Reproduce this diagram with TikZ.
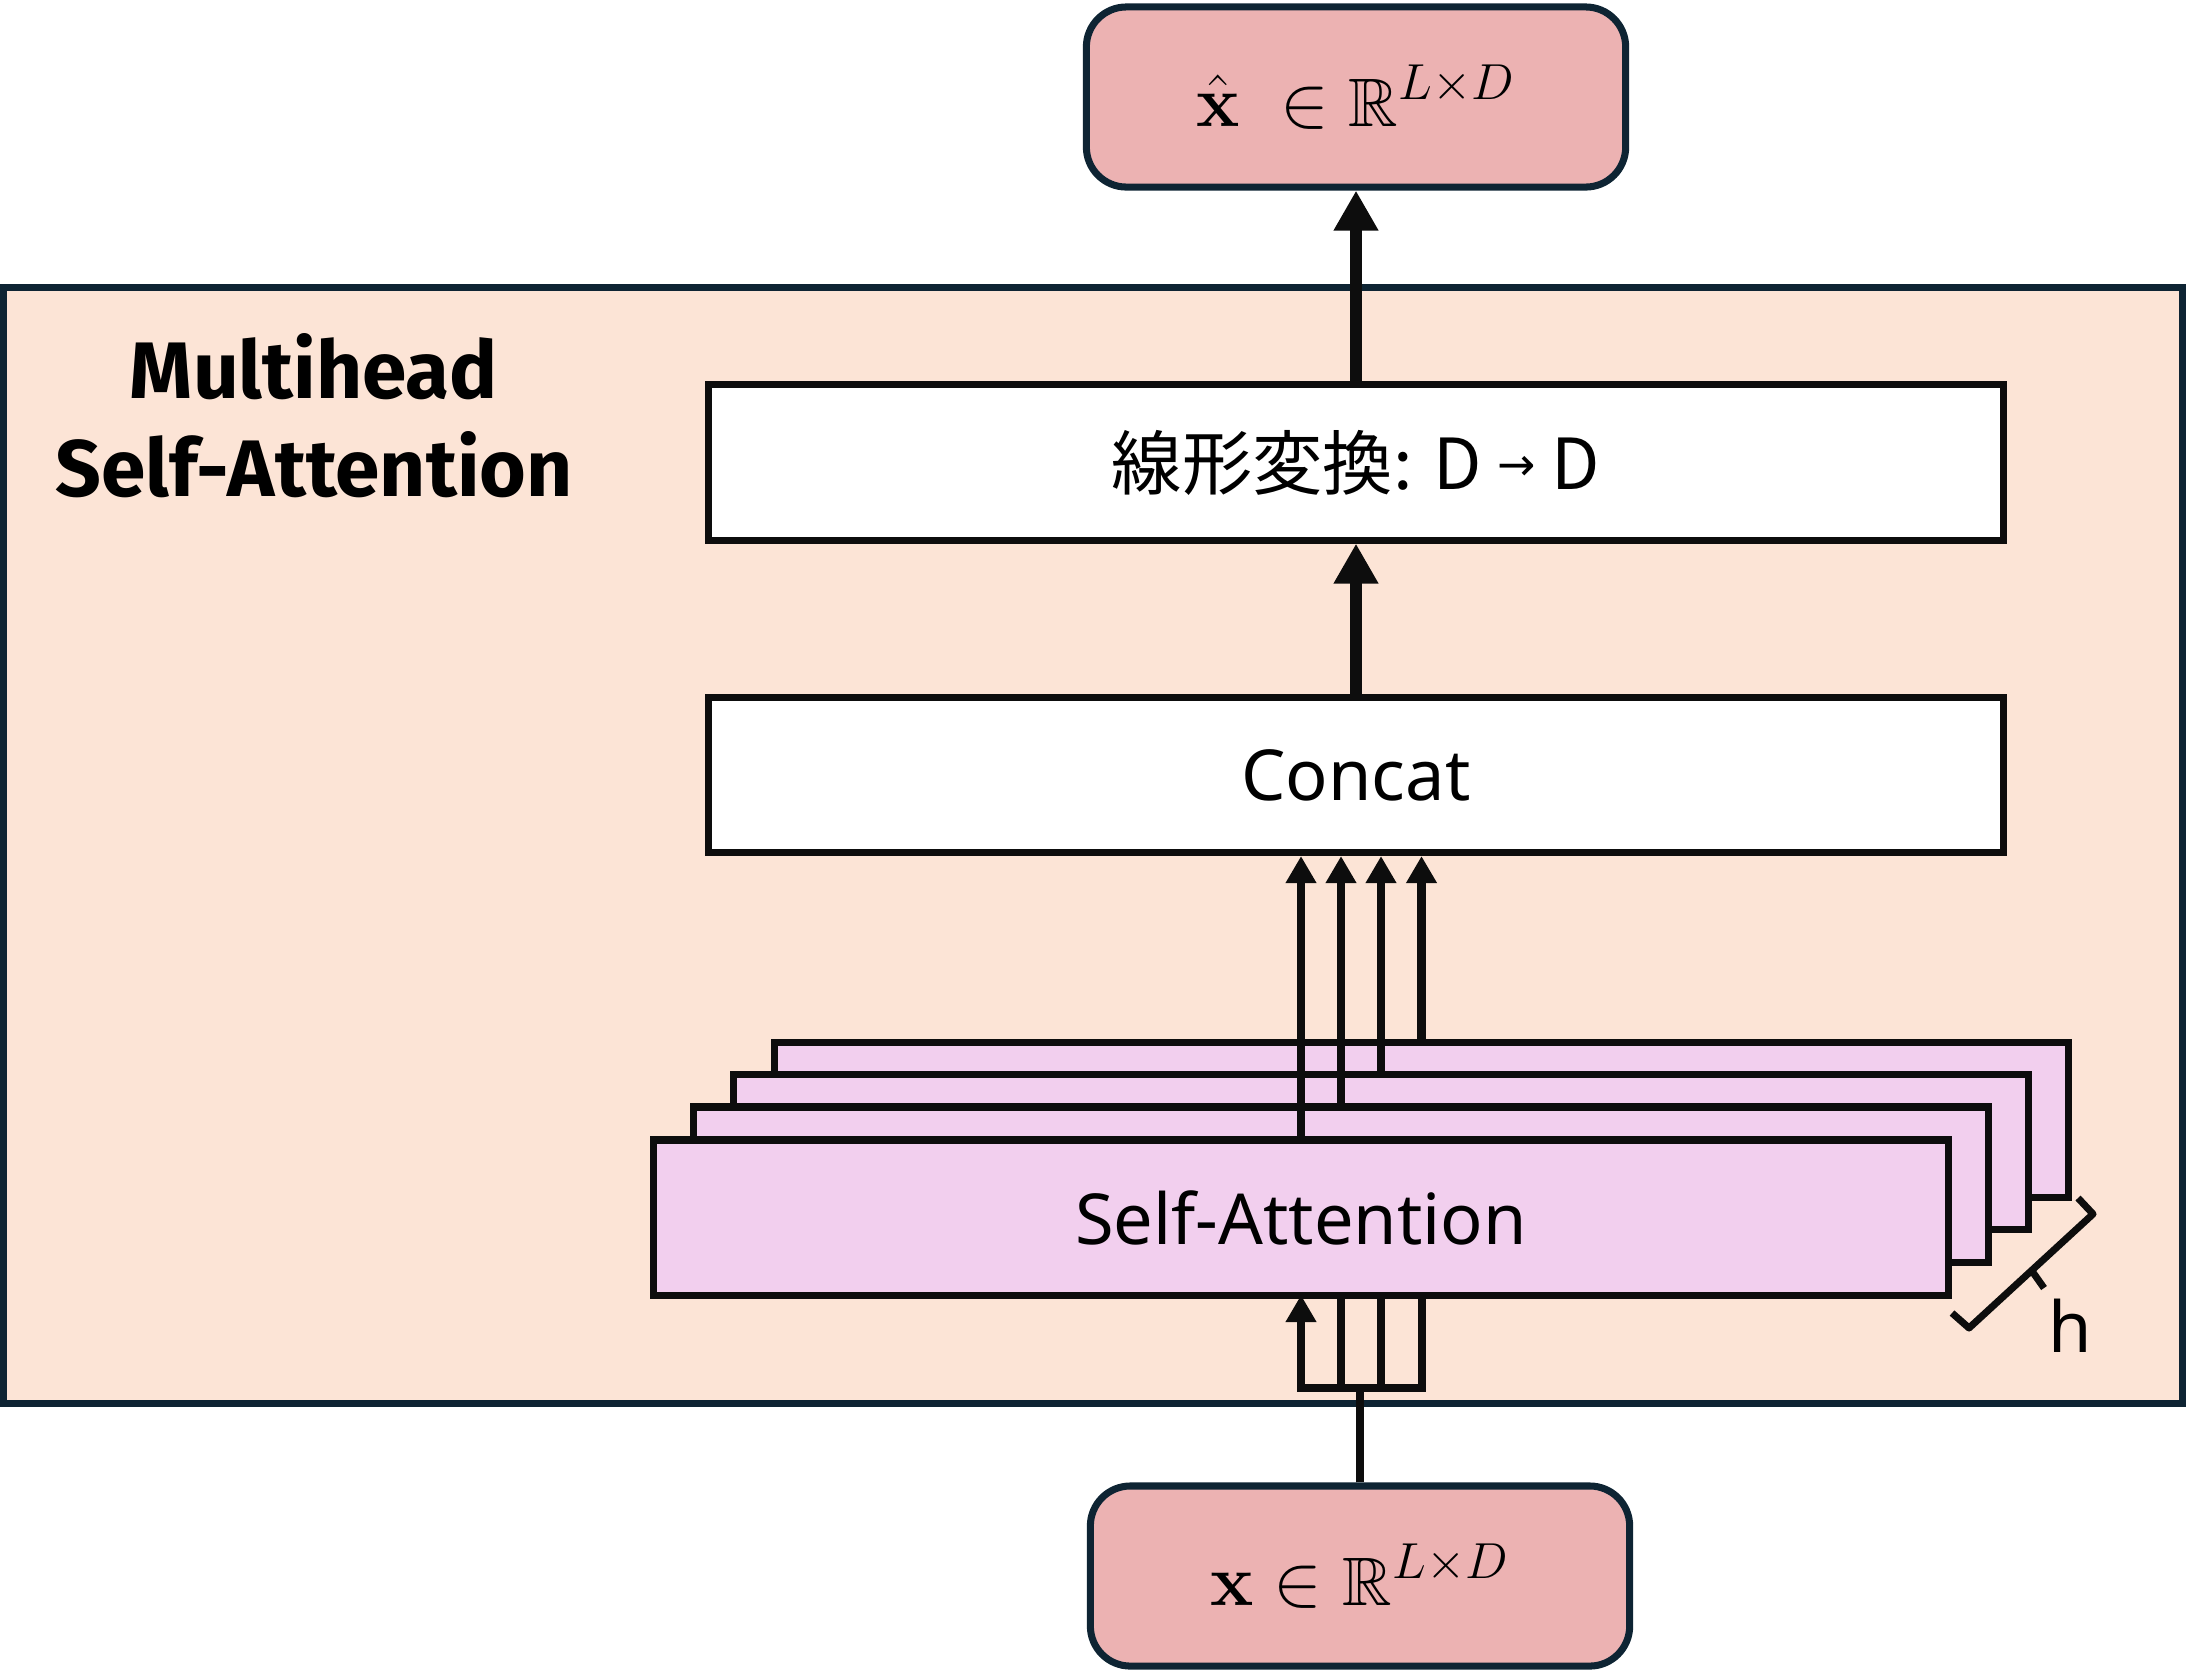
\documentclass[tikz,border=0pt]{standalone}
\usepackage{amsmath, amssymb}
\usepackage[no-math]{fontspec}
\setmainfont{Noto Sans}
\newfontfamily\jpfont{Noto Sans CJK JP}
\newfontfamily\titlefont{Fira Sans}
\newfontfamily\arrowfont{DejaVu Sans}
\usepackage{xcolor}
\usepackage{tikz}
\usetikzlibrary{arrows.meta, positioning}

\definecolor{outerfill}{HTML}{FCE4D6}
\definecolor{navy}{HTML}{0E2433}
\definecolor{iofill}{HTML}{ECB2B2}
\definecolor{headfill}{HTML}{F2CFEE}
\definecolor{ink}{HTML}{0D0D0D}

\begin{document}
\begin{tikzpicture}[x=0.01cm, y=-0.01cm,
    box/.style={draw=ink, line width=2pt, minimum width=12.94cm, minimum height=1.55cm, inner sep=0pt, font=\fontsize{20}{24}\selectfont},
    head/.style={box, fill=headfill},
    io/.style={draw=navy, fill=iofill, line width=2pt, rounded corners=0.4cm, minimum width=5.39cm, minimum height=1.8cm, inner sep=0pt, font=\fontsize{19.5}{24}\selectfont},
    bigarrow/.style={draw=ink, line width=3.2pt, -{Triangle[width=12pt, length=11.4pt]}},
    smallarrow/.style={draw=ink, line width=2.4pt, -{Triangle[width=8.3pt, length=7.7pt]}}]
    \useasboundingbox (0,0) rectangle (2186,1672);

    % Outer block
    \node[draw=navy, fill=outerfill, line width=2pt, minimum width=21.78cm, minimum height=11.15cm, inner sep=0pt] (mhsa) at (1093,845.5) {};
    \node[font=\titlefont\bfseries\fontsize{22.8}{27.9}\selectfont, align=center, inner sep=0pt] (title) at (314,416) {Multihead\\Self-Attention};

    % Blocks
    \node[io] (output) at (1356,97) {$\hat{\mathbf{x}}\;\in\mathbb{R}^{L\times D}$};
    \node[box, fill=white] (linear) at (1356,462.5) {\jpfont 線形変換: D \raisebox{2.5pt}{\arrowfont\fontsize{13}{13}\selectfont →} D};
    \node[box, fill=white] (concat) at (1356,775) {Concat};
    \node[io] (input) at (1360,1576) {$\mathbf{x}\in\mathbb{R}^{L\times D}$};

    % Inputs to the heads
    \coordinate (split) at (1360,1388);
    \draw[smallarrow] (input.north) -- (split) -| (1422,1198);
    \draw[smallarrow] (input.north) -- (split) -| (1381,1230);
    \draw[smallarrow] (input.north) -- (split) -| (1341,1262);
    \draw[smallarrow] (input.north) -- (split) -| (1301,1295);

    % Heads, back to front
    \node[head] (head4) at (1421.5,1120) {};
    \node[head] (head3) at (1381,1152) {};
    \node[head] (head2) at (1341,1184.5) {};
    \node[head] (head1) at (1301,1217.5) {Self-Attention};

    % Arrows
    \draw[smallarrow] (head1.north) -- (head1.north |- concat.south);
    \draw[smallarrow] (head2.north) -- (head2.north |- concat.south);
    \draw[smallarrow] (head3.north) -- (head3.north |- concat.south);
    \draw[smallarrow] (head4.north) -- (head4.north |- concat.south);
    \draw[bigarrow] (concat.north) -- (linear.south);
    \draw[bigarrow] (linear.north) -- (output.south);

    % Brace for h heads
    \draw[ink, line width=2pt, line join=round] (2078,1198) -- (2093,1214) -- (1969,1328) -- (1952,1313);
    \draw[ink, line width=2pt] (2032,1271) -- (2044,1288);
    \node[font=\fontsize{20}{24}\selectfont, inner sep=0pt] (hlabel) at (2070,1326) {h};
\end{tikzpicture}
\end{document}
